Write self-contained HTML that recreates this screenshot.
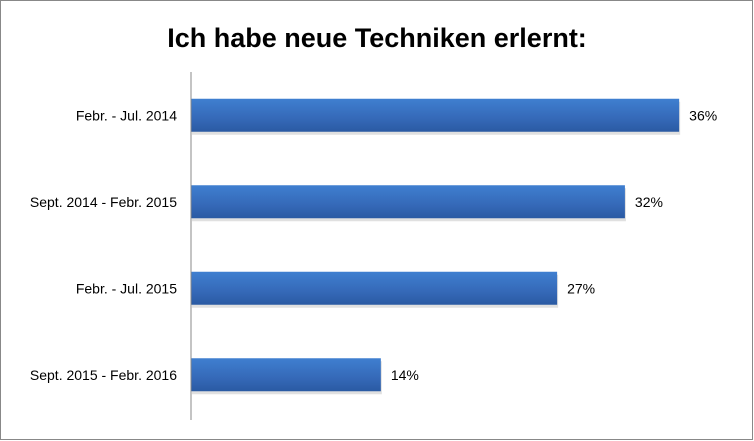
<!DOCTYPE html>
<html><head><meta charset="utf-8"><style>
body{margin:0;background:#fff;}
svg{display:block;font-family:"Liberation Sans",sans-serif;}
</style></head><body>
<svg id="chart" width="754" height="441">
<defs><linearGradient id="g" x1="0" y1="0" x2="0" y2="1">
<stop offset="0" stop-color="#3f7fd0"/><stop offset="0.6" stop-color="#3569b8"/><stop offset="1" stop-color="#2a5aa3"/></linearGradient></defs>
<rect x="0.5" y="0.5" width="752" height="439" fill="#fff" stroke="#888"/>
<text x="377" y="47" text-anchor="middle" font-size="27" font-weight="bold" fill="#000">Ich habe neue Techniken erlernt:</text>
<g id="bars"></g>
<line x1="191" y1="72" x2="191" y2="420" stroke="#888" stroke-width="1"/>
</svg>
<script>
const categories=["Febr. - Jul. 2014","Sept. 2014 - Febr. 2015","Febr. - Jul. 2015","Sept. 2015 - Febr. 2016"];
const values=[36,32,27,14];
const valueLabels=["36%","32%","27%","14%"];
const x0=191,pxPer=13.56,top0=72,band=86.5,barH=33;
const xs=v=>x0+v*pxPer;
const ys=i=>top0+i*band+(band-barH)/2;
const g=document.getElementById('bars');
const NS="http://www.w3.org/2000/svg";
categories.forEach((c,i)=>{
  const y=ys(i);
  const sh=document.createElementNS(NS,'rect');
  sh.setAttribute('x',x0+1);sh.setAttribute('y',y+3);sh.setAttribute('width',xs(values[i])-x0);sh.setAttribute('height',barH);sh.setAttribute('fill','#ccc');sh.setAttribute('opacity','0.6');
  
  
  g.appendChild(sh);
  const r=document.createElementNS(NS,'rect');
  r.setAttribute('x',x0);r.setAttribute('y',y);r.setAttribute('width',xs(values[i])-x0);r.setAttribute('height',barH);r.setAttribute('fill','url(#g)');
  
  
  g.appendChild(r);
  const t=document.createElementNS(NS,'text');
  t.setAttribute('x',x0-14);t.setAttribute('y',y+barH/2+5);t.setAttribute('text-anchor','end');t.setAttribute('font-size','14');t.textContent=c;
  
  
  g.appendChild(t);
  const v=document.createElementNS(NS,'text');
  v.setAttribute('x',xs(values[i])+10);v.setAttribute('y',y+barH/2+5);v.setAttribute('font-size','14');v.textContent=valueLabels[i];
  
  
  g.appendChild(v);
});
</script>
</body></html>
